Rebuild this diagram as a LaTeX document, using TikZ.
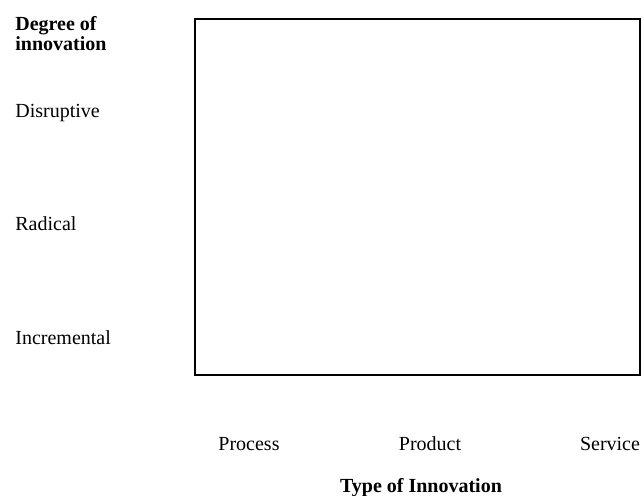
\documentclass[tikz,border=0pt]{standalone}
\usepackage{fontspec}
\setmainfont{Liberation Serif}
\usetikzlibrary{positioning}
\tikzset{levellabel/.style={rectangle,draw=none,inner sep=0pt,
anchor=base west,font=\fontsize{10}{10}\selectfont}}
\tikzset{typelabel/.style={rectangle,draw=none,inner sep=0pt,
anchor=base,font=\fontsize{10}{10}\selectfont}}
\tikzset{axistitle/.style={rectangle,draw=none,inner sep=0pt,
font=\bfseries\fontsize{10}{10}\selectfont}}
\tikzset{innovbox/.style={draw=black,line width=1pt}}

\begin{document}
\begin{tikzpicture}[x=0.5pt,y=-0.5pt]
        \useasboundingbox (0,0) rectangle (644,496);

        \draw[innovbox] (195,19) rectangle (640,375);

        \node[axistitle, align=left, anchor=north west] (degree) at (15,16) {Degree of\\innovation};
        \node[levellabel] (disruptive) at (15,118) {Disruptive};
        \node[levellabel] (radical) at (15,231) {Radical};
        \node[levellabel] (incremental) at (15,345) {Incremental};

        \node[typelabel] (process) at (249,451) {Process};
        \node[typelabel] (product) at (430,451) {Product};
        \node[typelabel] (service) at (610,451) {Service};

        \node[axistitle, anchor=base] (typeofinnov) at (421,493) {Type of Innovation};

    \end{tikzpicture}
\end{document}
